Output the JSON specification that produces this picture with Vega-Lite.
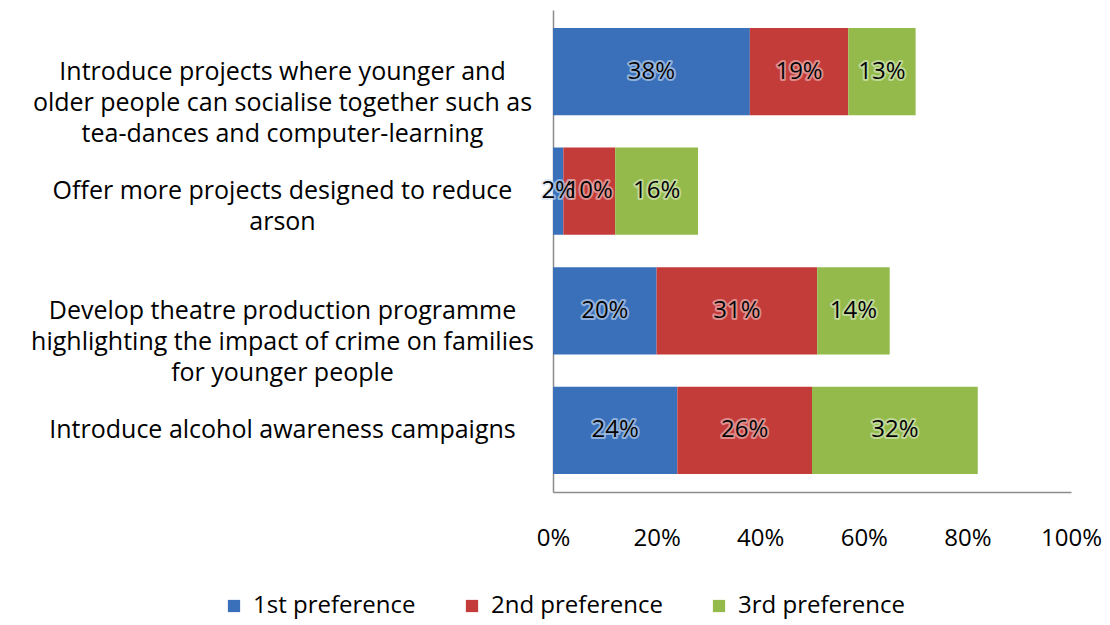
{
  "$schema": "https://vega.github.io/schema/vega-lite/v6.json",
  "width": 518,
  "height": 482,
  "autosize": {"type": "none"},
  "padding": {"left": 553, "top": 10, "right": 39, "bottom": 133},
  "background": "white",
  "config": {
    "view": {"stroke": null},
    "font": "Open Sans"
  },
  "data": {
    "values": [
      {"cat": "Introduce projects where younger and|older people can socialise together such as|tea-dances and computer-learning", "pref": "1st preference", "o": 1, "v": 0.38, "lab": "38%"},
      {"cat": "Introduce projects where younger and|older people can socialise together such as|tea-dances and computer-learning", "pref": "2nd preference", "o": 2, "v": 0.19, "lab": "19%"},
      {"cat": "Introduce projects where younger and|older people can socialise together such as|tea-dances and computer-learning", "pref": "3rd preference", "o": 3, "v": 0.13, "lab": "13%"},
      {"cat": "Offer more projects designed to reduce|arson", "pref": "1st preference", "o": 1, "v": 0.02, "lab": "2%"},
      {"cat": "Offer more projects designed to reduce|arson", "pref": "2nd preference", "o": 2, "v": 0.10, "lab": "10%"},
      {"cat": "Offer more projects designed to reduce|arson", "pref": "3rd preference", "o": 3, "v": 0.16, "lab": "16%"},
      {"cat": "Develop theatre production programme|highlighting the impact of crime on families|for younger people", "pref": "1st preference", "o": 1, "v": 0.20, "lab": "20%"},
      {"cat": "Develop theatre production programme|highlighting the impact of crime on families|for younger people", "pref": "2nd preference", "o": 2, "v": 0.31, "lab": "31%"},
      {"cat": "Develop theatre production programme|highlighting the impact of crime on families|for younger people", "pref": "3rd preference", "o": 3, "v": 0.14, "lab": "14%"},
      {"cat": "Introduce alcohol awareness campaigns", "pref": "1st preference", "o": 1, "v": 0.24, "lab": "24%"},
      {"cat": "Introduce alcohol awareness campaigns", "pref": "2nd preference", "o": 2, "v": 0.26, "lab": "26%"},
      {"cat": "Introduce alcohol awareness campaigns", "pref": "3rd preference", "o": 3, "v": 0.32, "lab": "32%"}
    ]
  },
  "transform": [
    {"stack": "v", "groupby": ["cat"], "sort": [{"field": "o", "order": "ascending"}], "as": ["x0", "x1"]},
    {"calculate": "(datum.x0 + datum.x1) / 2", "as": "xm"}
  ],
  "encoding": {
    "y": {
      "field": "cat",
      "type": "nominal",
      "sort": null,
      "scale": {"paddingInner": 0.27, "paddingOuter": 0.15},
      "axis": {
        "title": null,
        "labelExpr": "split(datum.label, '|')",
        "labelAlign": "center",
        "labelPadding": 271,
        "labelFontSize": 25,
        "labelLineHeight": 31,
        "labelColor": "#000000",
        "labelLimit": 700,
        "ticks": false,
        "domainColor": "#8c8c8c",
        "domainWidth": 1.5
      }
    }
  },
  "layer": [
    {
      "mark": {"type": "bar"},
      "encoding": {
        "x": {
          "field": "x0",
          "type": "quantitative",
          "scale": {"domain": [0, 1]},
          "axis": {
            "title": null,
            "format": "%",
            "values": [0, 0.2, 0.4, 0.6, 0.8, 1],
            "grid": false,
            "ticks": false,
            "labelPadding": 34,
            "labelFontSize": 24,
            "labelColor": "#000000",
            "labelFlush": false,
            "labelOverlap": false,
            "domainColor": "#8c8c8c",
            "domainWidth": 1.5
          }
        },
        "x2": {"field": "x1"},
        "color": {
          "field": "pref",
          "type": "nominal",
          "scale": {"domain": ["1st preference", "2nd preference", "3rd preference"], "range": ["#3a70b9", "#c33c3a", "#93ba4b"]},
          "legend": {
            "title": null,
            "orient": "none",
            "legendX": -331,
            "legendY": 584,
            "direction": "horizontal",
            "symbolType": "square",
            "symbolSize": 150,
            "symbolStrokeWidth": 0,
            "labelFontSize": 24,
            "labelColor": "#000000",
            "columnPadding": 44,
            "labelOffset": 7,
            "labelLimit": 400
          }
        }
      }
    },
    {
      "mark": {"type": "text", "fontSize": 24, "strokeWidth": 4, "strokeOpacity": 0.6, "strokeJoin": "round"},
      "encoding": {
        "x": {"field": "xm", "type": "quantitative"},
        "text": {"field": "lab"},
        "stroke": {
          "field": "pref",
          "type": "nominal",
          "scale": {"domain": ["1st preference", "2nd preference", "3rd preference"], "range": ["#c8dcf4", "#f2c2c1", "#dfedc8"]},
          "legend": null
        },
        "fill": {
          "field": "pref",
          "type": "nominal",
          "scale": {"domain": ["1st preference", "2nd preference", "3rd preference"], "range": ["#c8dcf4", "#f2c2c1", "#dfedc8"]},
          "legend": null
        }
      }
    },
    {
      "mark": {"type": "text", "fontSize": 24, "color": "#000000"},
      "encoding": {
        "x": {"field": "xm", "type": "quantitative"},
        "text": {"field": "lab"}
      }
    }
  ]
}
